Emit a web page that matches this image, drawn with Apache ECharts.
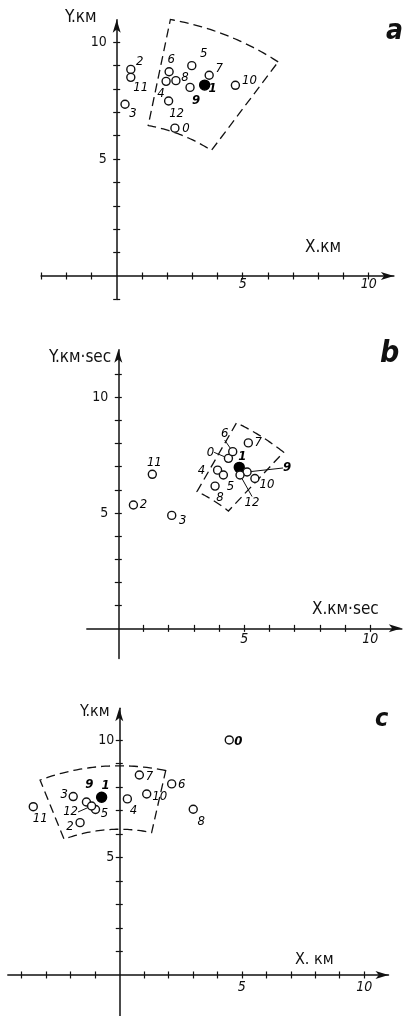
<!DOCTYPE html>
<html><head><meta charset="utf-8">
<script src="https://cdn.jsdelivr.net/npm/echarts@6.0.0/dist/echarts.min.js"></script>
<style>html,body{margin:0;padding:0;background:#fff}#c{width:409px;height:1016px}</style>
</head><body><div id="c"></div>
<script>
// ---------------- data ----------------
const pointNames = ['0','1','2','3','4','5','6','7','8','9','10','11','12'];
const filledPoint = '1';

// panel a  (X, km / Y, km)
const aX = [2.31, 3.49, 0.56, 0.33, 1.96, 2.98, 2.08, 3.67, 2.35, 2.91, 4.71, 0.56, 2.06];
const aY = [6.32, 8.16, 8.83, 7.34, 8.32, 8.99, 8.73, 8.58, 8.35, 8.06, 8.15, 8.49, 7.48];
// panel b  (X, km·sec / Y, km·sec)
const bX = [4.37, 4.80, 0.60, 2.12, 3.94, 4.17, 4.54, 5.16, 3.84, 5.11, 5.42, 1.35, 4.83];
const bY = [7.36, 6.97, 5.34, 4.89, 6.85, 6.64, 7.65, 8.03, 6.16, 6.77, 6.49, 6.67, 6.64];
// panel c  (X, km / Y, km)
const cX = [4.49, -0.72, -1.60, -1.88, 0.33, -0.97, 2.14, 0.82, 3.02, -1.34, 1.12, -3.51, -1.13];
const cY = [10.00, 7.56, 6.48, 7.59, 7.49, 7.04, 8.13, 8.51, 7.05, 7.36, 7.70, 7.16, 7.19];

// dashed sector outlines: [inner radius, outer radius, start angle (deg), end angle (deg)]
const aSector = [6.55, 11.17, 55, 79];
const bSector = [6.70, 10.06, 49.3, 62.2];
const cSector = [6.20, 8.90, 77.7, 111.3];

// tick values and tick labels
const aXTicks = [-3,-2,-1,1,2,3,4,5,6,7,8,9,10];
const aYTicks = [-1,1,2,3,4,5,6,7,8,9,10];
const bXTicks = [1,2,3,4,5,6,7,8,9,10];
const bYTicks = [1,2,3,4,5,6,7,8,9,10,11];
const cXTicks = [-4,-3,-2,-1,1,2,3,4,5,6,7,8,9,10];
const cYTicks = [1,2,3,4,5,6,7,8,9,10];
const tickLabels = [5, 10];

const panelLetters = ['a', 'b', 'c'];
const yTitles = ['Y.км', 'Y.км·sec', 'Y.км'];
const xTitles = ['X.км', 'X.км·sec', 'X. км'];

// ---------------- layout / style (not data) ----------------
const F = "'Liberation Sans Narrow','DejaVu Sans Condensed','Liberation Sans',sans-serif";
const INK = '#111';
const layouts = [
  {left:41.1, top:19.8, width:352.8, height:279.6, xMin:-3, xMax:11.0, yMin:-1, yMax:10.95, xLabGap:1, yLabGap:10},
  {left:86.8, top:349.8, width:315.0, height:308.6, xMin:-1.25, xMax:11.25, yMin:-1.3, yMax:12.06, xLabGap:4, yLabGap:10},
  {left:7.8, top:708.2, width:380.7, height:307.9, xMin:-4.55, xMax:10.99, yMin:-1.75, yMax:11.35, xLabGap:5, yLabGap:5}
];
const labelOffsets = [
  [[11,0],[8,4],[9,-8],[8,9],[-5,12],[12,-12],[2,-12],[10,-7],[9,-3],[6,13],[14,-5],[10,10],[8,13]],
  [[-18,-6],[3,-11],[10,0],[11,5],[-16,0],[7,12],[-8,-18],[10,0],[5,12],[40,-4],[12,6],[2,-12],[12,28]],
  [[9,2],[4,-12],[-10,4],[-9,-2],[6,12],[9,4],[10,1],[10,2],[8,12],[3,-17],[13,3],[7,12],[-21,6]]
];
const leaderIdx = [[], [0,6,9,12], [12]];
const boldIdx = [[1,9], [1,9], [0,1,9]];
const titleStyle = [
  {x:65, y:19, size:17, xx:305, xy:249, xsize:17, lx:386, ly:35, lsize:28},
  {x:49, y:359, size:17, xx:312, xy:611, xsize:17, lx:380, ly:358, lsize:30},
  {x:80, y:713, size:16, xx:295, xy:961, xsize:16, lx:375, ly:722, lsize:25}
];

const xsAll = [aX, bX, cX], ysAll = [aY, bY, cY];
const sectors = [aSector, bSector, cSector];
const xTicksAll = [aXTicks, bXTicks, cXTicks], yTicksAll = [aYTicks, bYTicks, cYTicks];

const grids = [], xAxes = [], yAxes = [], series = [], graphics = [];
const axisLine = {color: INK, width: 1.5};
const tickStyle = {color: INK, width: 1.2};

layouts.forEach((L, gi) => {
  grids.push({left: L.left, top: L.top, width: L.width, height: L.height, containLabel: false, outerBoundsMode: 'none'});
  const common = {gridIndex: gi, type: 'value', min: L.xMin, max: L.xMax, splitLine: {show: false}, axisLabel: {show: false}};
  xAxes.push(Object.assign({}, common, {
    position: 'bottom',
    axisLine: {show: true, onZero: true, lineStyle: axisLine, symbol: ['none', 'arrow'], symbolSize: [6, 13]},
    axisTick: {show: true, customValues: xTicksAll[gi], length: 3.5, lineStyle: tickStyle}
  }));
  xAxes.push(Object.assign({}, common, {
    position: 'top',
    axisLine: {show: true, onZero: true, lineStyle: {color: INK, width: 0, opacity: 0}},
    axisTick: {show: true, customValues: xTicksAll[gi], length: 3.5, lineStyle: tickStyle}
  }));
  const ycommon = {gridIndex: gi, type: 'value', min: L.yMin, max: L.yMax, splitLine: {show: false}, axisLabel: {show: false}};
  yAxes.push(Object.assign({}, ycommon, {
    position: 'left',
    axisLine: {show: true, onZero: true, lineStyle: axisLine, symbol: ['none', 'arrow'], symbolSize: [6, 13]},
    axisTick: {show: true, customValues: yTicksAll[gi], length: 3.5, lineStyle: tickStyle}
  }));
  yAxes.push(Object.assign({}, ycommon, {
    position: 'right',
    axisLine: {show: true, onZero: true, lineStyle: {color: INK, width: 0, opacity: 0}},
    axisTick: {show: true, customValues: yTicksAll[gi], length: 3.5, lineStyle: tickStyle}
  }));

  // tick labels placed on the axis lines through the axis scales
  series.push({
    type: 'custom', xAxisIndex: gi * 2, yAxisIndex: gi * 2, silent: true, z: 4,
    data: tickLabels.map(v => [v, 0]),
    renderItem: function (params, api) {
      const p = api.coord([api.value(0), 0]);
      return {type: 'text', x: p[0], y: p[1] + L.xLabGap,
        style: {text: String(api.value(0)), fill: INK, font: 'italic 14px ' + F, align: 'center', verticalAlign: 'top'}};
    }
  });
  series.push({
    type: 'custom', xAxisIndex: gi * 2, yAxisIndex: gi * 2, silent: true, z: 4,
    data: tickLabels.map(v => [0, v]),
    renderItem: function (params, api) {
      const p = api.coord([0, api.value(1)]);
      return {type: 'text', x: p[0] - L.yLabGap, y: p[1],
        style: {text: String(api.value(1)), fill: INK, font: '14px ' + F, align: 'right', verticalAlign: 'middle'}};
    }
  });

  const sec = sectors[gi];
  series.push({
    type: 'custom', xAxisIndex: gi * 2, yAxisIndex: gi * 2, silent: true, z: 1,
    data: [[0, 0]],
    renderItem: function (params, api) {
      const r0 = sec[0], r1 = sec[1], a0 = sec[2], a1 = sec[3], n = 40, pts = [];
      for (let i = 0; i <= n; i++) {
        const t = (a0 + (a1 - a0) * i / n) * Math.PI / 180;
        pts.push(api.coord([r1 * Math.cos(t), r1 * Math.sin(t)]));
      }
      for (let i = n; i >= 0; i--) {
        const t = (a0 + (a1 - a0) * i / n) * Math.PI / 180;
        pts.push(api.coord([r0 * Math.cos(t), r0 * Math.sin(t)]));
      }
      return {type: 'polygon', shape: {points: pts},
        style: {fill: 'none', stroke: INK, lineWidth: 1.3, lineDash: [9, 5]}};
    }
  });

  const offs = labelOffsets[gi];
  series.push({
    type: 'scatter', xAxisIndex: gi * 2, yAxisIndex: gi * 2, z: 3,
    symbol: 'circle', symbolSize: 8,
    itemStyle: {color: '#fff', borderColor: INK, borderWidth: 1.4, opacity: 1},
    emphasis: {disabled: true},
    label: {show: true, position: 'inside', formatter: '{b}', color: '#000', fontSize: 13,
      fontStyle: 'italic', fontFamily: F, align: 'center', verticalAlign: 'middle',
      textBorderWidth: 0, textBorderColor: 'transparent'},
    labelLine: {show: false, lineStyle: {color: INK, width: 1, opacity: 1}},
    labelLayout: function (p) { return {dx: offs[p.dataIndex][0], dy: offs[p.dataIndex][1]}; },
    data: xsAll[gi].map((x, i) => {
      const filled = pointNames[i] === filledPoint;
      return {
        name: pointNames[i], value: [x, ysAll[gi][i]],
        symbolSize: filled ? 10 : 8,
        itemStyle: filled ? {color: '#000', borderColor: '#000', opacity: 1} : undefined,
        label: {fontWeight: boldIdx[gi].indexOf(i) >= 0 ? 'bold' : 'normal'},
        labelLine: {show: leaderIdx[gi].indexOf(i) >= 0}
      };
    })
  });

  const T = titleStyle[gi];
  graphics.push({type: 'text', left: T.x, top: T.y - T.size * 0.6, style: {text: yTitles[gi], fill: INK, font: T.size + 'px ' + F}});
  graphics.push({type: 'text', left: T.xx, top: T.xy - T.xsize * 0.6, style: {text: xTitles[gi], fill: INK, font: T.xsize + 'px ' + F}});
  graphics.push({type: 'text', left: T.lx, top: T.ly - T.lsize * 0.62, style: {text: panelLetters[gi], fill: INK, font: 'italic bold ' + T.lsize + 'px ' + F}});
});

const chart = echarts.init(document.getElementById('c'), null, {renderer: 'canvas'});
chart.setOption({
  animation: false,
  backgroundColor: '#fff',
  grid: grids, xAxis: xAxes, yAxis: yAxes, series: series, graphic: graphics
});
</script></body></html>
